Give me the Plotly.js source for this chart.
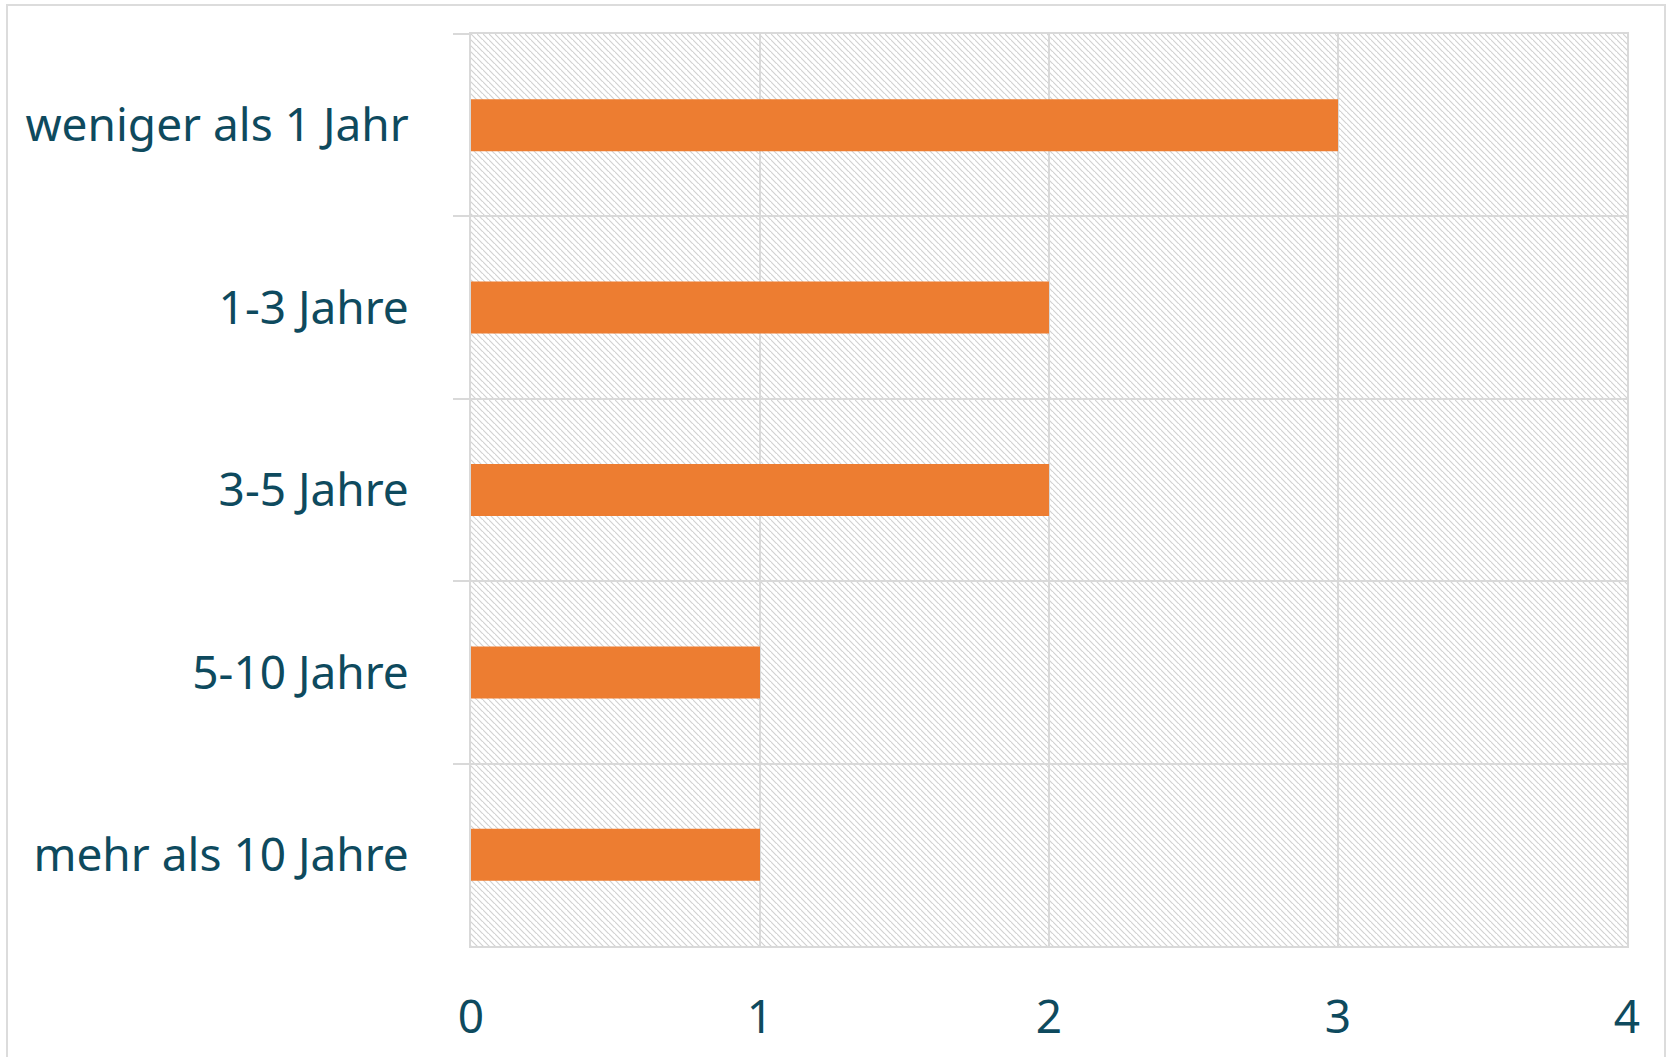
<!DOCTYPE html>
<html>
<head>
<meta charset="utf-8">
<script src="https://cdn.plot.ly/plotly-3.0.1.min.js"></script>
<style>
  html, body { margin: 0; padding: 0; background: #ffffff; }
  #wrap { position: relative; width: 1671px; height: 1057px; overflow: hidden; }
  #frame { position: absolute; left: 6px; top: 4px; width: 1660px; height: 1100px; border: 2px solid #dcdcdc; box-sizing: border-box; }
  #chart { position: absolute; left: 0; top: 0; width: 1671px; height: 1057px; }
</style>
</head>
<body>
<div id="wrap">
  <div id="frame"></div>
  <div id="chart"></div>
</div>
<script>
// Data
const categories = ["weniger als 1 Jahr", "1-3 Jahre", "3-5 Jahre", "5-10 Jahre", "mehr als 10 Jahre"];
const values = [3, 2, 2, 1, 1];
const xTickValues = [0, 1, 2, 3, 4];
const xTickLabels = ["0", "1", "2", "3", "4"];

const textColor = "#0e4a5e";
const gridColor = "#d9d9d9";
const barColor = "#ED7D31";

// Hatched plot background (decorative)
const hatchSvg =
  '<svg xmlns="http://www.w3.org/2000/svg" width="1156" height="912">' +
  '<defs><pattern id="h" patternUnits="userSpaceOnUse" width="6" height="6">' +
  '<path d="M-1,-1 L7,7 M-4,2 L2,8 M4,-4 L10,2" stroke="#d2d2d2" stroke-width="1.2" fill="none"/>' +
  '</pattern></defs>' +
  '<rect width="1156" height="912" fill="#ffffff"/>' +
  '<rect width="1156" height="912" fill="url(#h)"/></svg>';
const hatchUri = "data:image/svg+xml;charset=utf-8," + encodeURIComponent(hatchSvg);

const trace = {
  type: "bar",
  orientation: "h",
  y: categories,
  x: values,
  marker: { color: barColor, line: { width: 0 } },
  hoverinfo: "x+y"
};

const layout = {
  width: 1671,
  height: 1057,
  margin: { l: 471, r: 44, t: 34, b: 111, pad: 0 },
  paper_bgcolor: "rgba(0,0,0,0)",
  plot_bgcolor: "#ffffff",
  showlegend: false,
  bargap: 0.715,
  font: { family: "Noto Sans, Open Sans, sans-serif", color: textColor, size: 46 },
  xaxis: {
    range: [0, 4],
    tickmode: "array",
    tickvals: xTickValues,
    ticktext: xTickLabels,
    showgrid: true,
    gridcolor: gridColor,
    gridwidth: 2,
    zeroline: false,
    showline: true,
    linecolor: gridColor,
    linewidth: 2,
    mirror: true,
    ticks: "",
    ticklabelstandoff: 30,
    tickfont: { size: 46, color: textColor, family: "Noto Sans, sans-serif" },
    fixedrange: true
  },
  yaxis: {
    type: "category",
    categoryorder: "array",
    categoryarray: categories,
    autorange: "reversed",
    tickson: "boundaries",
    ticks: "outside",
    ticklen: 16,
    tickwidth: 2,
    tickcolor: gridColor,
    showgrid: true,
    gridcolor: gridColor,
    gridwidth: 2,
    showline: true,
    linecolor: gridColor,
    linewidth: 2,
    mirror: true,
    zeroline: false,
    ticklabelstandoff: 51,
    tickfont: { size: 46, color: textColor, family: "Noto Sans, sans-serif" },
    fixedrange: true
  },
  images: [{
    source: hatchUri,
    xref: "paper", yref: "paper",
    x: 0, y: 1, sizex: 1, sizey: 1,
    xanchor: "left", yanchor: "top",
    sizing: "stretch",
    layer: "below"
  }]
};

Plotly.newPlot("chart", [trace], layout, { displayModeBar: false, staticPlot: true });
</script>
</body>
</html>
